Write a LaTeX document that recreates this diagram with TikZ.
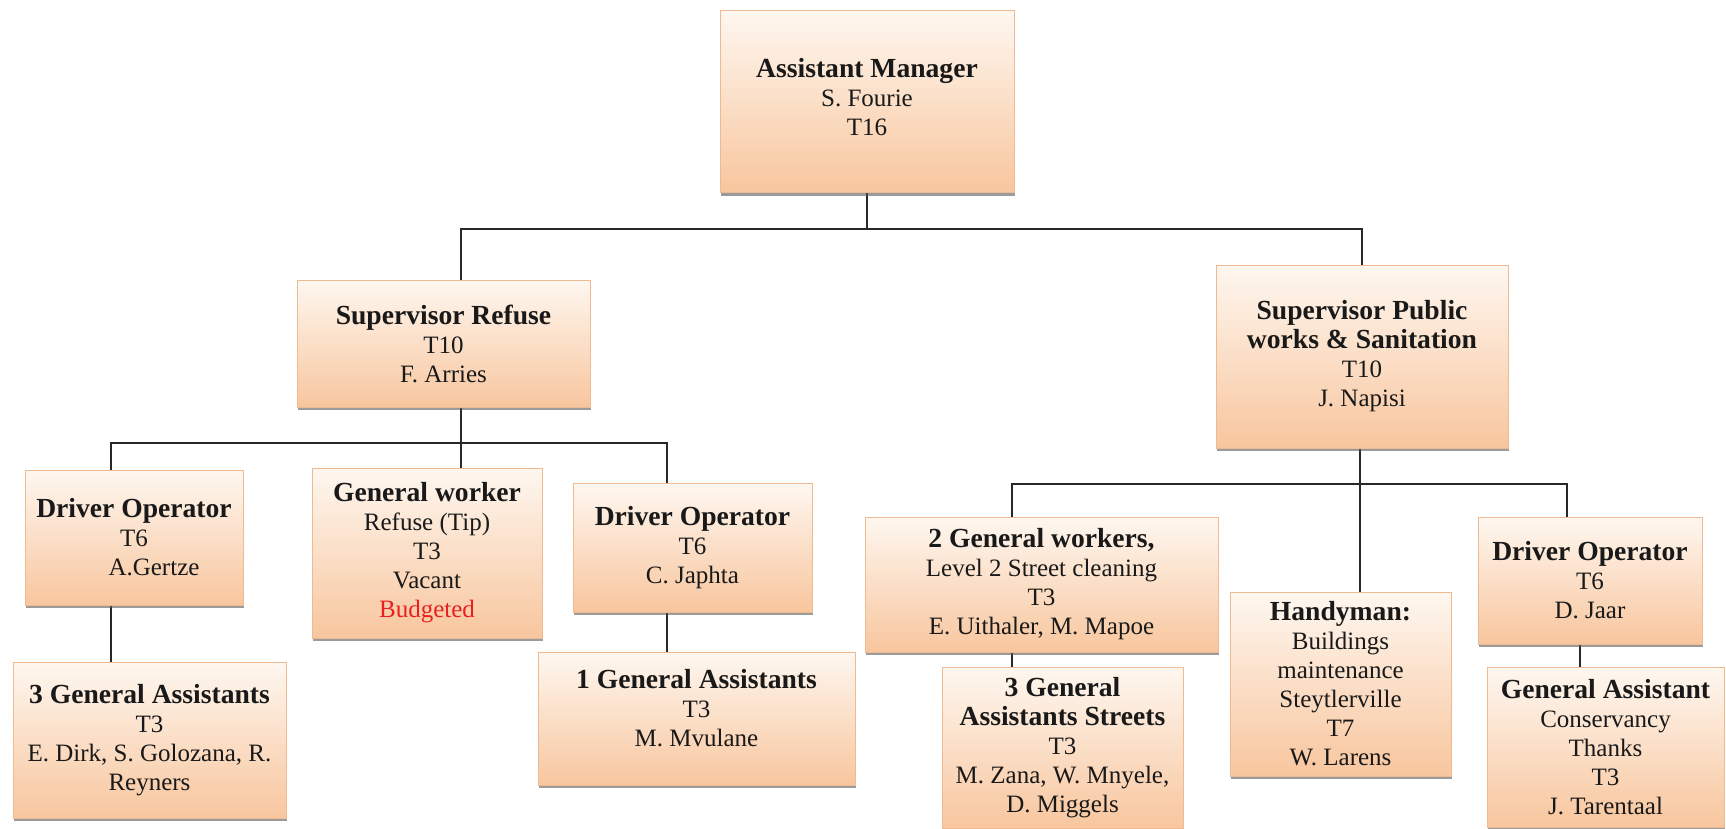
\documentclass[tikz,border=0pt]{standalone}
\usepackage{fontspec}
\setmainfont{Liberation Serif}
\usetikzlibrary{shadows,backgrounds}

\definecolor{boxtop}{RGB}{254,247,240}
\definecolor{boxbot}{RGB}{248,198,158}
\definecolor{boxedge}{RGB}{238,186,146}
\definecolor{wirecol}{RGB}{40,40,40}
\definecolor{flagred}{RGB}{232,32,32}

\newcommand\boxtitle[1]{{\fontsize{13.8}{14.5}\selectfont\bfseries #1}}

\tikzset{
  orgbox/.style={draw=boxedge, line width=0.5pt, top color=boxtop, bottom color=boxbot,
    align=center, inner sep=0pt, text=black!90,
    font=\fontsize{12.5}{14.5}\selectfont,
    drop shadow={shadow xshift=0.7pt, shadow yshift=-1.3pt, opacity=0.6, fill=black!65}},
  wire/.style={draw=wirecol, line width=1.1pt}
}

\begin{document}
\begin{tikzpicture}[x=0.5pt,y=-0.5pt]
\useasboundingbox (0,0) rectangle (1726,829);

% top level
\node[orgbox, minimum width=147pt, minimum height=91pt] (am) at (867,102)
  {\boxtitle{Assistant Manager}\\S. Fourie\\T16\\[-9.5pt]};

% supervisors
\node[orgbox, minimum width=146.5pt, minimum height=63.5pt] (sr) at (443.5,343.5)
  {\boxtitle{Supervisor Refuse}\\T10\\F. Arries};
\node[orgbox, minimum width=146pt, minimum height=91.5pt] (sp) at (1362,356.5)
  {\boxtitle{Supervisor Public}\\\boxtitle{works \& Sanitation}\\T10\\J. Napisi};

% refuse section
\node[orgbox, minimum width=109pt, minimum height=67.5pt] (da) at (134,537.5)
  {\boxtitle{Driver Operator}\\T6\\\hspace*{20pt}A.Gertze};
\node[orgbox, minimum width=115pt, minimum height=85pt] (gw) at (427,553)
  {\boxtitle{General worker}\\Refuse (Tip)\\T3\\Vacant\\\textcolor{flagred}{Budgeted}};
\node[orgbox, minimum width=119.5pt, minimum height=64.5pt] (dc) at (692.5,547.5)
  {\boxtitle{Driver Operator}\\T6\\C. Japhta};
\node[orgbox, minimum width=136.5pt, minimum height=78pt] (ga3) at (149.5,740)
  {\boxtitle{3 General Assistants}\\T3\\E. Dirk, S. Golozana, R.\\Reyners};
\node[orgbox, minimum width=158.5pt, minimum height=66.5pt] (ga1) at (696.5,718.5)
  {\boxtitle{1 General Assistants}\\T3\\M. Mvulane\\[-4pt]};

% public works section
\node[orgbox, minimum width=176.5pt, minimum height=67.5pt] (gw2) at (1041.5,584.5)
  {\boxtitle{2 General workers,}\\Level 2 Street cleaning\\T3\\E. Uithaler, M. Mapoe};
\node[orgbox, minimum width=110.5pt, minimum height=92pt] (hm) at (1340.5,684)
  {\boxtitle{Handyman:}\\Buildings\\maintenance\\Steytlerville\\T7\\W. Larens};
\node[orgbox, minimum width=112pt, minimum height=63.5pt] (dj) at (1590,580.5)
  {\boxtitle{Driver Operator}\\T6\\D. Jaar};
\node[orgbox, minimum width=120.5pt, minimum height=80.5pt] (gas) at (1062.5,747.5)
  {\boxtitle{3 General}\\\boxtitle{Assistants Streets}\\T3\\M. Zana, W. Mnyele,\\D. Miggels};
\node[orgbox, minimum width=118.5pt, minimum height=80pt] (gac) at (1605.5,747)
  {\boxtitle{General Assistant}\\Conservancy\\Thanks\\T3\\J. Tarentaal};

% bus junctions
\coordinate (b1L) at (461,229);  \coordinate (b1R) at (1362,229);
\coordinate (b2a) at (111,443);  \coordinate (b2b) at (461,443);  \coordinate (b2c) at (667,443);
\coordinate (b3a) at (1012,484); \coordinate (b3b) at (1360,484); \coordinate (b3c) at (1567,484);
\coordinate (d4) at (1580,640);

\begin{scope}[on background layer]
  \fill[white] (0,0) rectangle (1726,829);
  \draw[wire] (am.south) -- (am.south |- b1L);
  \draw[wire] (b1L |- sr.north) -- (b1L) -- (b1R) -- (b1R |- sp.north);

  \draw[wire] (b2b |- sr.south) -- (b2b |- gw.north);
  \draw[wire] (b2a |- da.north) -- (b2a) -- (b2c) -- (b2c |- dc.north);
  \draw[wire] (b2a |- da.south) -- (b2a |- ga3.north);
  \draw[wire] (b2c |- dc.south) -- (b2c |- ga1.north);

  \draw[wire] (b3b |- sp.south) -- (b3b |- hm.north);
  \draw[wire] (b3a |- gw2.north) -- (b3a) -- (b3c) -- (b3c |- dj.north);
  \draw[wire] (b3a |- gw2.south) -- (b3a |- gas.north);
  \draw[wire] (d4 |- dj.south) -- (d4 |- gac.north);
\end{scope}
\end{tikzpicture}
\end{document}
